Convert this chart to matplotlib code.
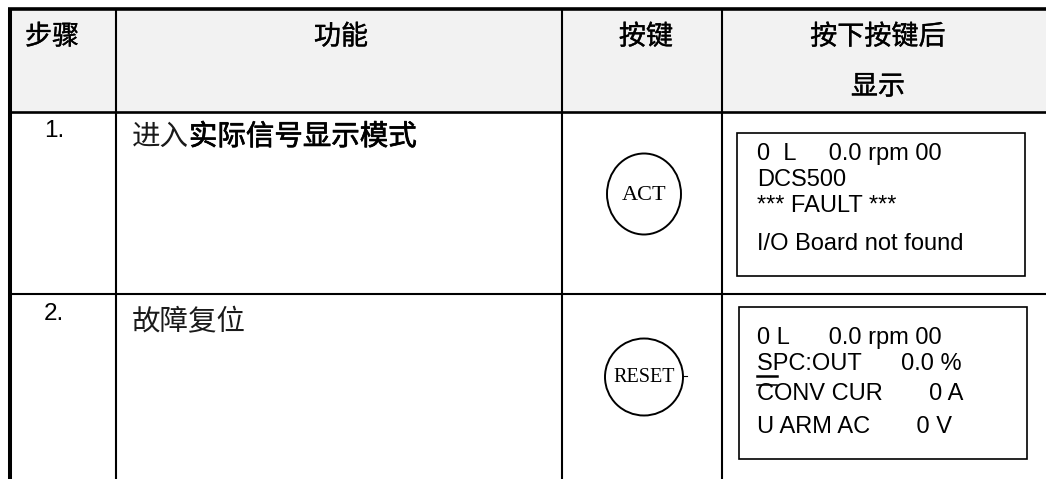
import matplotlib
matplotlib.use('Agg')
import matplotlib.pyplot as plt
import matplotlib.patheffects as pe
from matplotlib.patches import Rectangle, Ellipse

plt.rcParams['font.family'] = ['Liberation Sans', 'Noto Sans CJK SC', 'DejaVu Sans']

# table content
headers = ['步骤', '功能', '按键', '按下按键后\n\n显示']
steps = ['1.', '2.']
func_light = ['进入', '故障复位']
func_bold = ['实际信号显示模式', '']
keys = ['ACT', 'RESET']
display_lines = [
    ['0  L     0.0 rpm 00', 'DCS500', '*** FAULT ***', 'I/O Board not found'],
    ['0 L      0.0 rpm 00', 'SPC:OUT      0.0 %', 'CONV CUR       0 A', 'U ARM AC       0 V'],
]

# layout in pixels (figure is 1046 x 479)
W, H = 1046, 479
col_x = [10, 116, 562, 722, W]
row_y = [9, 112, 294, H]

fig = plt.figure(figsize=(W / 100, H / 100), dpi=100)
ax = fig.add_axes([0, 0, 1, 1])
ax.set_xlim(0, W)
ax.set_ylim(H, 0)
ax.axis('off')

# header background
ax.add_patch(Rectangle((col_x[0], row_y[0]), W - col_x[0], row_y[1] - row_y[0],
                       facecolor='#f2f2f2', edgecolor='none', zorder=0))

# grid lines
ax.plot([col_x[0] - 2, W], [row_y[0], row_y[0]], color='black', lw=2.6, solid_capstyle='butt')
ax.plot([col_x[0], col_x[0]], [row_y[0], H], color='black', lw=2.9, solid_capstyle='butt')
ax.plot([col_x[0], W], [row_y[1], row_y[1]], color='black', lw=1.9, solid_capstyle='butt')
ax.plot([col_x[0], W], [row_y[2], row_y[2]], color='black', lw=1.5, solid_capstyle='butt')
for x in col_x[1:4]:
    ax.plot([x, x], [row_y[0], H], color='black', lw=1.5, solid_capstyle='butt')

cjk = ['Noto Sans CJK SC', 'DejaVu Sans']
heavy = [pe.withStroke(linewidth=0.5, foreground='black')]
semi = [pe.withStroke(linewidth=0.25, foreground='black')]

# header text
hs = 19.5
ax.text(25, 37, headers[0], family=cjk, fontsize=hs, ha='left', va='center', path_effects=semi)
ax.text(341, 37, headers[1], family=cjk, fontsize=hs, ha='center', va='center', path_effects=semi)
ax.text(646, 37, headers[2], family=cjk, fontsize=hs, ha='center', va='center', path_effects=semi)
head4 = headers[3].split('\n')
ax.text(878, 37, head4[0], family=cjk, fontsize=hs, ha='center', va='center', path_effects=semi)
ax.text(878, 87, head4[-1], family=cjk, fontsize=hs, ha='center', va='center', path_effects=semi)

# body rows
step_base = [137, 320]
func_y = [137, 322]
key_centre = [(644, 194), (644, 377)]
key_size = [(74, 81), (78, 77)]
key_fs = [16, 14.5]
box = [(737, 133, 288, 143), (739, 307, 288, 152)]
line_base = [[160, 186, 212, 250], [344, 370, 400, 433]]
fs = 20.5

for i in range(2):
    ax.text(44, step_base[i], steps[i], fontsize=17.5, ha='left', va='baseline')
    ax.text(132, func_y[i], func_light[i], family=cjk, fontsize=fs,
            color='#1a1a1a', ha='left', va='center')
    if func_bold[i]:
        ax.text(132 + 2 * fs / 0.72, func_y[i], func_bold[i], family=cjk, fontsize=fs,
                ha='left', va='center', path_effects=heavy)

    cx, cy = key_centre[i]
    ax.add_patch(Ellipse((cx, cy), key_size[i][0], key_size[i][1],
                         facecolor='white', edgecolor='black', lw=1.4))
    ax.text(cx, cy + 1, keys[i], family=['Liberation Serif'], fontsize=key_fs[i],
            ha='center', va='center')

    bx, by, bw, bh = box[i]
    ax.add_patch(Rectangle((bx, by), bw, bh, facecolor='none', edgecolor='black', lw=1.2))
    for text, yb in zip(display_lines[i], line_base[i]):
        ax.text(757, yb, text, fontsize=17, ha='left', va='baseline')

# small tick at right of RESET key
ax.plot([683, 687], [376, 376], color='black', lw=0.8)
# cursor marks in the second display
ax.plot([757, 777], [376, 376], color='black', lw=1.8)
ax.plot([757, 777], [385, 385], color='black', lw=1.1)

fig.savefig('out.png', dpi=100)
